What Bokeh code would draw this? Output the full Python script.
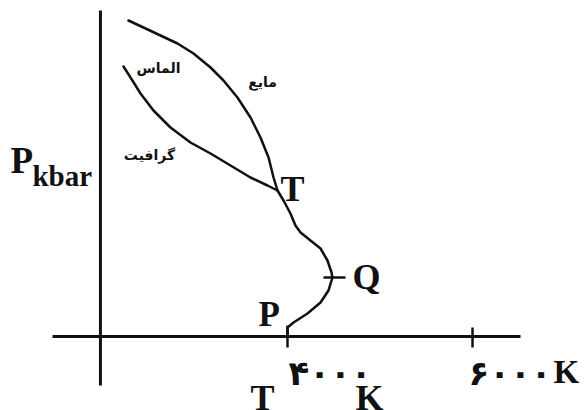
from bokeh.plotting import figure
from bokeh.models import Range1d
from bokeh.core.properties import value
from bokeh.embed import file_html
from bokeh.resources import INLINE

# ---- data (temperature in K, pressure in kbar) ----
liquid_diamond_T = [2281, 2443, 2627, 2811, 2984, 3168, 3308, 3459, 3600, 3708, 3795, 3849, 3892]
liquid_diamond_P = [316, 309, 301, 293, 283, 269, 256, 239, 219, 199, 179, 159, 146]

diamond_graphite_T = [2227, 2303, 2411, 2551, 2735, 2951, 3168, 3384, 3600, 3784, 3892]
diamond_graphite_P = [270, 259, 243, 226, 209, 194, 183, 171, 159, 151, 146]

graphite_liquid_T = [3892, 3957, 4032, 4086, 4141, 4249, 4357, 4432, 4476, 4486, 4443, 4357, 4216, 4065, 4000, 4000]
graphite_liquid_P = [146, 136, 123, 111, 104, 96, 88, 76, 64, 59, 46, 34, 23, 14, 9, 0]

axis_T0 = 1978          # temperature where the pressure axis stands
axis_T_span = [1460, 6519]
axis_P_span = [-49, 326]
tick_T = [4000, 6000]
tick_lo = [-11, -11]
tick_hi = [11, 9]
tick_labels = ["۴۰۰۰", "۶۰۰۰"]
Q_T = [4389, 4627]
Q_P = 59

phase_labels = ["الماس", "مایع", "گرافیت"]
phase_T = [2606, 3730, 2508]
phase_P = [269, 255, 182]

p = figure(width=586, height=410, output_backend="svg", toolbar_location=None,
           x_range=Range1d(897.5, 7232.2), y_range=Range1d(-74, 336),
           x_axis_type=None, y_axis_type=None, min_border=0)
p.outline_line_color = None
p.grid.visible = False
p.background_fill_color = "white"

ink = "#111111"
# axes
p.line(axis_T_span, [0, 0], line_color=ink, line_width=3)
p.line([axis_T0, axis_T0], axis_P_span, line_color=ink, line_width=3)
p.segment(x0=tick_T, y0=tick_lo, x1=tick_T, y1=tick_hi, line_color=ink, line_width=2.5)
p.line(Q_T, [Q_P, Q_P], line_color=ink, line_width=2.5)

# phase boundaries
for xs, ys in [(liquid_diamond_T, liquid_diamond_P),
               (diamond_graphite_T, diamond_graphite_P),
               (graphite_liquid_T, graphite_liquid_P)]:
    p.line(xs, ys, line_color=ink, line_width=2.5, line_join="round", line_cap="round")

serif = value("Liberation Serif")
common = dict(text_font=serif, text_font_style="bold", text_color=ink,
              text_baseline="middle", text_align="left")
# Latin labels
p.text(x=[3924], y=[148], text=["T"], text_font_size="36px", **common)
p.text(x=[4703], y=[60], text=["Q"], text_font_size="36px", **common)
p.text(x=[3686], y=[22], text=["P"], text_font_size="35px", **common)
p.text(x=[3600, 4735], y=[-61, -61], text=["T", "K"], text_font_size="36px", **common)
p.text(x=[6875], y=[-35], text=["K"], text_font_size="33px", **common)
p.text(x=[1006], y=[176], text=["P"], text_font_size="37px", **common)
p.text(x=[1243], y=[161], text=["kbar"], text_font_size="29px", **common)

# tick labels (Persian digits)
p.text(x=[4011, 5957], y=[-36, -36], text=tick_labels, text_font=value("DejaVu Sans"),
       text_font_style="bold", text_font_size="34px", text_color=ink,
       text_baseline="middle", text_align="left")

# phase names
p.text(x=phase_T, y=phase_P, text=phase_labels, text_font=value("DejaVu Sans"),
       text_font_style="bold", text_font_size="14px", text_color=ink,
       text_baseline="middle", text_align="center")

open("out.html", "w").write(file_html(p, INLINE))
